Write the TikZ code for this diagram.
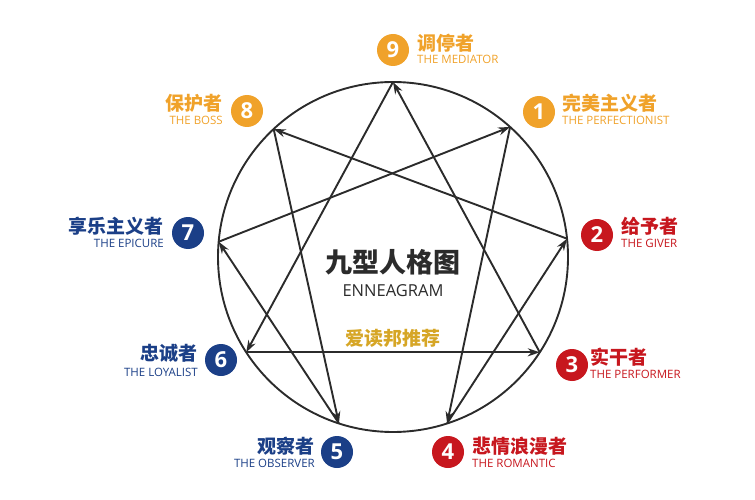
\documentclass[tikz,border=0pt]{standalone}
\usepackage{fontspec}
\setmainfont{Open Sans}
\newfontfamily\cjk{Noto Sans CJK SC}
\usetikzlibrary{arrows.meta,calc}

\definecolor{enorange}{HTML}{F0A22A}
\definecolor{enblue}{HTML}{1B3F87}
\definecolor{enred}{HTML}{C7171E}
\definecolor{engold}{HTML}{D6A626}
\definecolor{enline}{HTML}{2B2B2B}

\tikzset{
  badge/.style={circle,fill=#1,text=white,minimum size=32pt,inner sep=0pt,
    font=\fontsize{22}{22}\selectfont\bfseries},
  cnlab/.style={text=#1,inner sep=0pt,font=\cjk\fontsize{19}{19}\selectfont\bfseries},
  enlab/.style={text=#1,inner sep=0pt,font=\fontsize{11.5}{11.5}\selectfont},
  arr/.style={enline,line width=1.9pt,-{Stealth[length=12pt,width=8pt]}}
}

\begin{document}
\begin{tikzpicture}[x=1pt,y=-1pt]
\useasboundingbox (0,0) rectangle (755,500);
\coordinate (O) at (393,257);
\draw[enline,line width=1.9pt] (O) circle[radius=175pt];
% points on the circle
\foreach \n/\a in {9/90,1/48,2/6,3/-33,4/-72,5/-108,6/-147,7/175,8/133}
  \coordinate (p\n) at ($(O)+(\a:175pt)$);
\path
(p6) edge[arr] (p3)
(p3) edge[arr] (p9)
(p9) edge[arr] (p6)
(p1) edge[arr] (p4)
(p4) edge[arr] (p2)
(p2) edge[arr] (p8)
(p8) edge[arr] (p5)
(p5) edge[arr] (p7)
(p7) edge[arr] (p1);
% centre
\node[inner sep=0pt,font=\cjk\fontsize{27}{27}\selectfont\bfseries,text=enline] (title) at (393,262) {九型人格图};
\node[inner sep=0pt,font=\fontsize{16.5}{16.5}\selectfont,text=enline] (sub) at (393,291) {ENNEAGRAM};
\node[inner sep=0pt,font=\cjk\fontsize{19}{19}\selectfont\bfseries,text=engold] (rec) at (393,338) {爱读邦推荐};
% type 9, 1, 8
\node[badge=enorange] (b9) at (393,50) {9};
\node[cnlab=enorange,anchor=west] (c9) at (417,43) {调停者};
\node[enlab=enorange,anchor=west] (e9) at (417,59) {THE MEDIATOR};
\node[badge=enorange] (b1) at (539,112) {1};
\node[cnlab=enorange,anchor=west] (c1) at (562,103) {完美主义者};
\node[enlab=enorange,anchor=west] (e1) at (562,120) {THE PERFECTIONIST};
\node[badge=enorange] (b8) at (247,111) {8};
\node[cnlab=enorange,anchor=east] (c8) at (223,103) {保护者};
\node[enlab=enorange,anchor=east] (e8) at (223,120) {THE BOSS};
% type 2, 3, 4
\node[badge=enred] (b2) at (597,235) {2};
\node[cnlab=enred,anchor=west] (c2) at (621,226) {给予者};
\node[enlab=enred,anchor=west] (e2) at (621,243) {THE GIVER};
\node[badge=enred] (b3) at (572,365) {3};
\node[cnlab=enred,anchor=west] (c3) at (590,357) {实干者};
\node[enlab=enred,anchor=west] (e3) at (590,374) {THE PERFORMER};
\node[badge=enred] (b4) at (448,452) {4};
\node[cnlab=enred,anchor=west] (c4) at (472,446) {悲情浪漫者};
\node[enlab=enred,anchor=west] (e4) at (472,463) {THE ROMANTIC};
% type 5, 6, 7
\node[badge=enblue] (b5) at (337,452) {5};
\node[cnlab=enblue,anchor=east] (c5) at (315,446) {观察者};
\node[enlab=enblue,anchor=east] (e5) at (315,463) {THE OBSERVER};
\node[badge=enblue] (b6) at (221,360) {6};
\node[cnlab=enblue,anchor=east] (c6) at (198,353) {忠诚者};
\node[enlab=enblue,anchor=east] (e6) at (198,372) {THE LOYALIST};
\node[badge=enblue] (b7) at (188,233) {7};
\node[cnlab=enblue,anchor=east] (c7) at (164,226) {享乐主义者};
\node[enlab=enblue,anchor=east] (e7) at (164,243) {THE EPICURE};
\end{tikzpicture}
\end{document}
